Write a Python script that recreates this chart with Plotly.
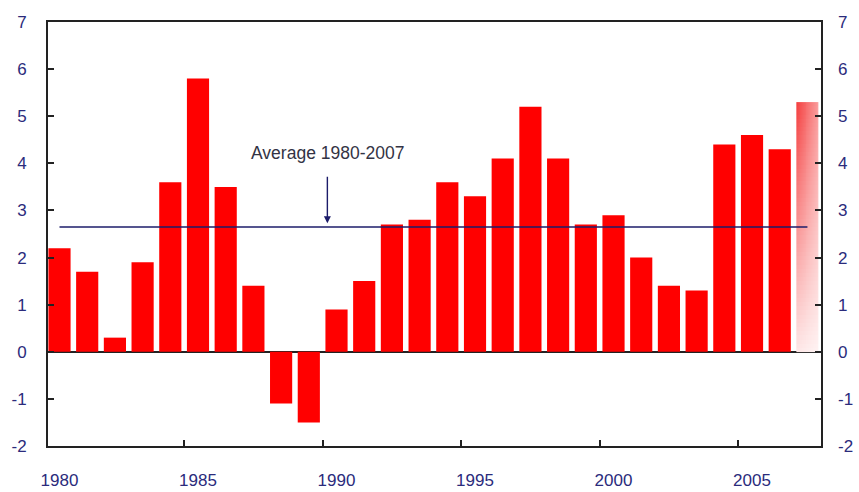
import numpy as np
import plotly.graph_objects as go

years = list(range(1980, 2008))
values = [2.2, 1.7, 0.3, 1.9, 3.6, 5.8, 3.5, 1.4, -1.1, -1.5,
          0.9, 1.5, 2.7, 2.8, 3.6, 3.3, 4.1, 5.2, 4.1, 2.7,
          2.9, 2.0, 1.4, 1.3, 4.4, 4.6, 4.3, 5.3]
average = 2.65
avg_label = "Average 1980-2007"
xlabel_years = [1980, 1985, 1990, 1995, 2000, 2005]
xtick_bounds = [1984.5, 1989.5, 1994.5, 1999.5, 2004.5]
ytick_vals = list(range(-2, 8))
ytick_text = [str(v) for v in ytick_vals]

BAR_W = 0.8
XR = [1979.585, 2007.49]
YR = [-2, 7]
NAVY = "#2b2b7c"
FONT = "Liberation Sans, Arial, sans-serif"

fig = go.Figure()

colors = ["#ff0000"] * (len(years) - 1) + ["rgba(0,0,0,0)"]
fig.add_trace(go.Bar(x=years, y=values, width=BAR_W, marker=dict(color=colors, line=dict(width=0)),
                     hoverinfo="skip", showlegend=False))

# gradient fill for the last (estimate) bar, built from its value
ly, lv = years[-1], values[-1]
nx, ny = 24, 60
xe = np.linspace(ly - BAR_W / 2, ly + BAR_W / 2, nx + 1)
ye = np.linspace(0, lv, ny + 1)
xc = (xe[:-1] + xe[1:]) / 2
yc = (ye[:-1] + ye[1:]) / 2
xf = (xc - xe[0]) / (xe[-1] - xe[0])
yf = yc / lv
Z = np.outer(0.12 + 0.88 * yf, 1 - 0.5 * xf)
fig.add_trace(go.Heatmap(x=xe, y=ye, z=Z, zmin=0, zmax=1, showscale=False, hoverinfo="skip",
                         colorscale=[[0, "#ffffff"], [1, "#f43c3c"]]))

fig.add_trace(go.Scatter(x=[years[0], years[-1]], y=[average, average], mode="lines",
                         line=dict(color="#1c1c6a", width=1.6), xaxis="x2", yaxis="y2",
                         hoverinfo="skip", showlegend=False))

font_tick = dict(family=FONT, size=17, color=NAVY)

fig.update_layout(
    width=859, height=492,
    margin=dict(l=48, r=38, t=22, b=46),
    paper_bgcolor="white", plot_bgcolor="white",
    barmode="overlay",
    xaxis=dict(range=XR, tickvals=xlabel_years, ticktext=[str(v) for v in xlabel_years],
               ticks="", showgrid=False, zeroline=False, showline=True, mirror=True,
               linecolor="#222222", linewidth=2, tickfont=font_tick, ticklabelstandoff=18,
               automargin=False),
    xaxis2=dict(range=XR, overlaying="x", anchor="y", tickvals=xtick_bounds, ticks="inside",
                ticklen=6, tickwidth=1.5, tickcolor="#222222", showticklabels=False,
                showgrid=False, zeroline=False, showline=False, side="bottom", automargin=False),
    yaxis=dict(range=YR, tickvals=ytick_vals, ticktext=ytick_text, ticks="inside", ticklen=6,
               tickwidth=1.5, tickcolor="#222222", showgrid=False, zeroline=True,
               zerolinecolor="#222222", zerolinewidth=1.6, showline=True, mirror="ticks",
               linecolor="#222222", linewidth=2, tickfont=font_tick, ticklabelstandoff=16,
               automargin=False),
    yaxis2=dict(range=YR, overlaying="y", side="right", anchor="x", tickvals=ytick_vals,
                ticktext=ytick_text, ticks="", showgrid=False, zeroline=False, showline=False,
                tickfont=font_tick, ticklabelstandoff=16, automargin=False),
    annotations=[dict(x=1989.67, y=average + 0.08, xref="x", yref="y", text=avg_label,
                      showarrow=True, ax=0, ay=-70, arrowhead=2, arrowsize=1, arrowwidth=1.4,
                      arrowcolor="#1c1c6a", startstandoff=12,
                      font=dict(family=FONT, size=17.5, color="#333344"))],
)

fig.write_html("out.html", config={"displayModeBar": False},
               post_script="document.body.style.margin='0';document.body.style.overflow='hidden';")
